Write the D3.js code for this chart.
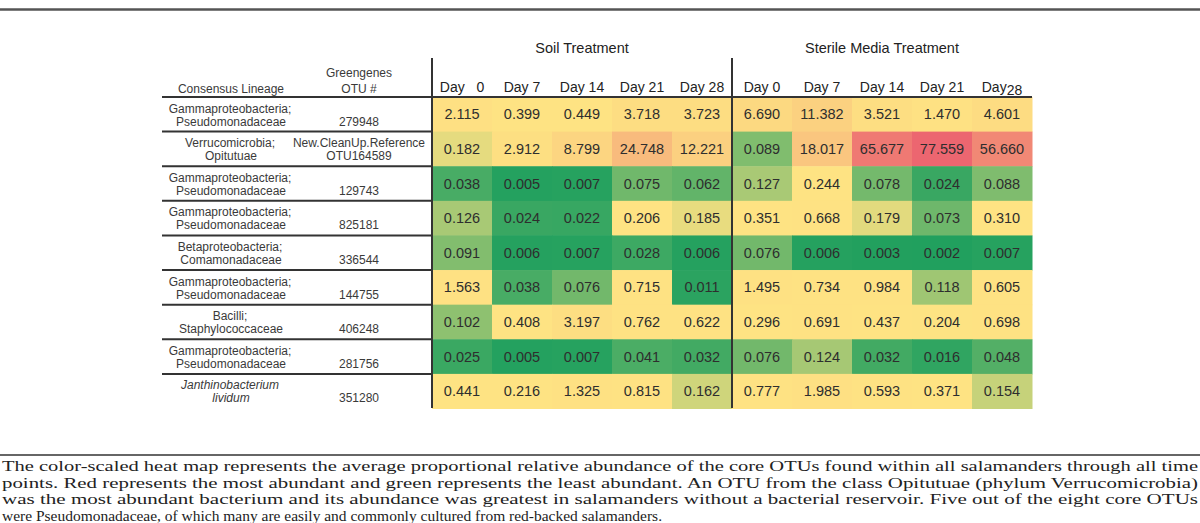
<!DOCTYPE html>
<html><head><meta charset="utf-8">
<script src="https://cdn.jsdelivr.net/npm/d3@7"></script>
<style>
html,body{margin:0;padding:0;background:#fff;}
svg{display:block;}
</style></head>
<body>
<svg id="chart" width="1200" height="523"></svg>
<script>
// ---- data ----
const lineageLine1 = ["Gammaproteobacteria;","Verrucomicrobia;","Gammaproteobacteria;","Gammaproteobacteria;","Betaproteobacteria;","Gammaproteobacteria;","Bacilli;","Gammaproteobacteria;","Janthinobacterium"];
const lineageLine2 = ["Pseudomonadaceae","Opitutuae","Pseudomonadaceae","Pseudomonadaceae","Comamonadaceae","Pseudomonadaceae","Staphylococcaceae","Pseudomonadaceae","lividum"];
const lineageItalic = [false,false,false,false,false,false,false,false,true];
const otuLine1 = ["","New.CleanUp.Reference","","","","","","",""];
const otuLine2 = ["279948","OTU164589","129743","825181","336544","144755","406248","281756","351280"];
const treatments = ["Soil Treatment","Sterile Media Treatment"];
const soilDays = ["Day   0","Day 7","Day 14","Day 21","Day 28"];
const sterileDays = ["Day 0","Day 7","Day 14","Day 21","Day 28"];
const soilValues = [
  [2.115,0.399,0.449,3.718,3.723],
  [0.182,2.912,8.799,24.748,12.221],
  [0.038,0.005,0.007,0.075,0.062],
  [0.126,0.024,0.022,0.206,0.185],
  [0.091,0.006,0.007,0.028,0.006],
  [1.563,0.038,0.076,0.715,0.011],
  [0.102,0.408,3.197,0.762,0.622],
  [0.025,0.005,0.007,0.041,0.032],
  [0.441,0.216,1.325,0.815,0.162]
];
const sterileValues = [
  [6.690,11.382,3.521,1.470,4.601],
  [0.089,18.017,65.677,77.559,56.660],
  [0.127,0.244,0.078,0.024,0.088],
  [0.351,0.668,0.179,0.073,0.310],
  [0.076,0.006,0.003,0.002,0.007],
  [1.495,0.734,0.984,0.118,0.605],
  [0.296,0.691,0.437,0.204,0.698],
  [0.076,0.124,0.032,0.016,0.048],
  [0.777,1.985,0.593,0.371,0.154]
];
const caption = [
  "The color-scaled heat map represents the average proportional relative abundance of the core OTUs found within all salamanders through all time",
  "points. Red represents the most abundant and green represents the least abundant. An OTU from the class Opitutuae (phylum Verrucomicrobia)",
  "was the most abundant bacterium and its abundance was greatest in salamanders without a bacterial reservoir. Five out of the eight core OTUs",
  "were Pseudomonadaceae, of which many are easily and commonly cultured from red-backed salamanders."
];

// ---- build ----
const svg = d3.select("#chart");
const nRows = soilValues.length;
const cols = d3.range(10);
const x = d3.scaleBand().domain(cols).range([432, 1032]);
const y = d3.scaleBand().domain(d3.range(nRows)).range([97, 408.5]);

const cells = [];
for (let r = 0; r < nRows; r++) {
  soilValues[r].forEach((v, c) => cells.push({r, c, v}));
  sterileValues[r].forEach((v, c) => cells.push({r, c: c + 5, v}));
}
const allVals = cells.map(d => d.v);
const color = d3.scaleLinear()
  .domain([d3.min(allVals), d3.median(allVals), d3.max(allVals)])
  .range(["#21a05e", "#fee383", "#ec6670"])
  .interpolate(d3.interpolateRgb);

const sans = "'Liberation Sans', Arial, Helvetica, sans-serif";

// top & bottom rules
svg.append("line").attr("x1",0).attr("x2",1200).attr("y1",9.5).attr("y2",9.5)
  .attr("stroke","#555").attr("stroke-width",2.5);
svg.append("line").attr("x1",0).attr("x2",1200).attr("y1",455).attr("y2",455)
  .attr("stroke","#666").attr("stroke-width",2);

// cells
svg.append("g").selectAll("rect").data(cells).join("rect")
  .attr("x", d => x(d.c)).attr("y", d => y(d.r))
  .attr("width", x.bandwidth() + 0.5).attr("height", y.bandwidth() + 0.5)
  .attr("fill", d => color(d.v));

const fmt = d3.format(".3f");
svg.append("g").selectAll("text").data(cells).join("text")
  .attr("x", d => x(d.c) + x.bandwidth()/2)
  .attr("y", d => y(d.r) + y.bandwidth()/2 + 5)
  .attr("text-anchor","middle")
  .attr("font-family", sans).attr("font-size", 14.5)
  .attr("fill","#2e2e2e")
  .text(d => fmt(d.v));

// treatment titles
treatments.forEach((t, i) => {
  svg.append("text")
    .attr("x", (x(i*5) + x(i*5+4) + x.bandwidth())/2)
    .attr("y", 53)
    .attr("text-anchor","middle")
    .attr("font-family", sans).attr("font-size", 14.5).attr("fill","#222")
    .text(t);
});

// day headers
const hdr = svg.append("g").attr("font-family", sans).attr("font-size", 14).attr("fill","#222");
soilDays.forEach((d, i) => {
  hdr.append("text").attr("x", x(i) + x.bandwidth()/2).attr("y", 92)
    .attr("text-anchor","middle").style("white-space","pre").text(d);
});
sterileDays.forEach((d, i) => {
  const t = hdr.append("text").attr("x", x(i+5) + x.bandwidth()/2).attr("y", 92)
    .attr("text-anchor","middle");
  if (i === 4) {
    const parts = d.split(" ");
    t.append("tspan").text(parts[0]);
    t.append("tspan").attr("dy", 3).text(parts[1]);
  } else t.text(d);
});

// left header
const left = svg.append("g").attr("font-family", sans).attr("font-size", 12).attr("fill","#3a3a3a");
left.append("text").attr("x", 231).attr("y", 92.5).attr("text-anchor","middle").text("Consensus Lineage");
left.append("text").attr("x", 359).attr("y", 77).attr("text-anchor","middle").text("Greengenes");
left.append("text").attr("x", 359).attr("y", 92.5).attr("text-anchor","middle").text("OTU #");

// left row labels
for (let r = 0; r < nRows; r++) {
  const y0 = y(r);
  left.append("text").attr("x", 230).attr("y", y0 + 15.5).attr("text-anchor","middle")
    .attr("font-style", lineageItalic[r] ? "italic" : null).text(lineageLine1[r]);
  left.append("text").attr("x", 231).attr("y", y0 + 28.5).attr("text-anchor","middle")
    .attr("font-style", lineageItalic[r] ? "italic" : null).text(lineageLine2[r]);
  if (otuLine1[r]) left.append("text").attr("x", 359).attr("y", y0 + 15.5).attr("text-anchor","middle").text(otuLine1[r]);
  left.append("text").attr("x", 359).attr("y", y0 + 28.5).attr("text-anchor","middle").text(otuLine2[r]);
}

// rules
svg.append("line").attr("x1",162).attr("x2",1032).attr("y1",97).attr("y2",97)
  .attr("stroke","#333").attr("stroke-width",2);
for (let r = 1; r < nRows; r++) {
  svg.append("line").attr("x1",162).attr("x2",433).attr("y1",y(r)).attr("y2",y(r))
    .attr("stroke","#333").attr("stroke-width",2);
}
[x(0), x(5)].forEach(xx => {
  svg.append("line").attr("x1",xx).attr("x2",xx).attr("y1",58).attr("y2",408)
    .attr("stroke","#333").attr("stroke-width",2);
});

// caption
const capWidths = [1196, 1196, 1196, 660];
caption.forEach((c, i) => {
  svg.append("text").attr("x", 2).attr("y", 471 + i*16.6)
    .attr("font-family","'Liberation Serif', 'Times New Roman', serif")
    .attr("font-size", 15.5).attr("fill","#222")
    .attr("textLength", capWidths[i]).attr("lengthAdjust","spacingAndGlyphs")
    .text(c);
});
</script>
</body></html>
